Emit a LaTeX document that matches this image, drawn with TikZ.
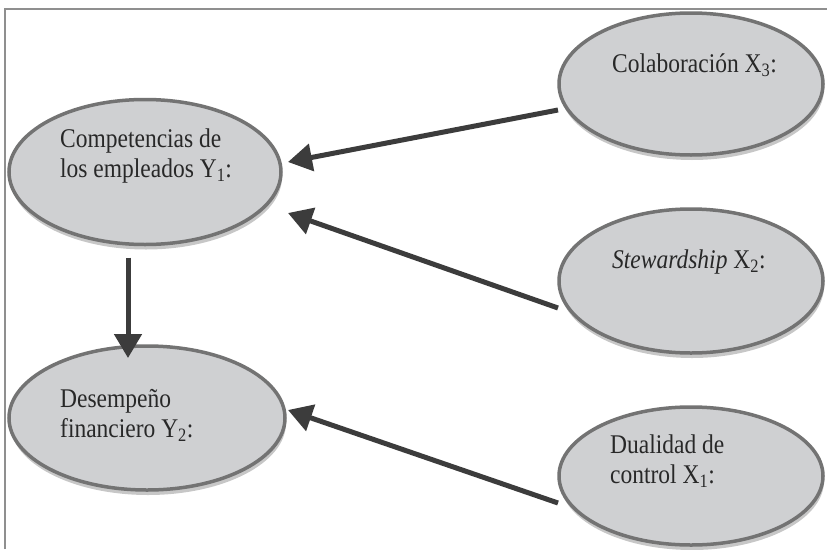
\documentclass[tikz,border=0pt]{standalone}
\usepackage{fontspec}
\setmainfont{Liberation Serif}[FakeStretch=0.87]
\usetikzlibrary{shapes.geometric,arrows.meta,shadows,calc}
\definecolor{bubblefill}{HTML}{CFD0D2}
\definecolor{bubbleline}{HTML}{737373}
\definecolor{framegray}{HTML}{8F8F8F}
\definecolor{arrowgray}{HTML}{3C3C3C}
\definecolor{textgray}{HTML}{282828}
\tikzset{
  bubble/.style={ellipse, draw=bubbleline, line width=3.5pt, fill=bubblefill,
    inner sep=0pt, outer sep=0pt,
    drop shadow={shadow xshift=1pt, shadow yshift=-5pt, opacity=0.22, fill=black}},
  txt/.style={anchor=north west, inner sep=0pt, align=left, text=textgray,
    font=\fontsize{27}{30}\selectfont},
  arr/.style={draw=arrowgray, line width=5pt,
    -{Triangle[length=24pt,width=27pt]}}
}
\begin{document}
\begin{tikzpicture}[x=1pt,y=-1pt]
\useasboundingbox (0,0) rectangle (827,549);
\fill[white] (0,0) rectangle (827,549);
% frame
\draw[framegray, line width=1.5pt] (5,549) -- (5,9) -- (827,9);
% ellipses
\node[bubble, minimum width=272pt, minimum height=145pt] (comp) at (145,172) {};
\node[bubble, minimum width=276pt, minimum height=144pt] (des) at (147,418) {};
\node[bubble, minimum width=264pt, minimum height=142pt] (col) at (691,84) {};
\node[bubble, minimum width=264pt, minimum height=144pt] (stew) at (691,281) {};
\node[bubble, minimum width=264pt, minimum height=138pt] (dual) at (691,476) {};
% texts
\node[txt] (tcomp) at (60,126) {\strut Competencias de\\los empleados Y\textsubscript{1}:};
\node[txt] (tdes) at (60,386) {\strut Desempeño\\financiero Y\textsubscript{2}:};
\node[txt] (tcol) at (612,51) {\strut Colaboración X\textsubscript{3}:};
\node[txt] (tstew) at (612,247) {\strut \textit{Stewardship} X\textsubscript{2}:};
\node[txt] (tdual) at (610,432) {\strut Dualidad de\\control X\textsubscript{1}:};
% arrows
\draw[arr] ($(col.west)+(-1,26)$) -- ($(comp.east)+(7,-10)$);
\draw[arr] ($(stew.west)+(-1,27)$) -- ($(comp.east)+(7,41)$);
\draw[arr] ($(dual.west)+(-1,27)$) -- ($(des.east)+(3,-8)$);
\draw[arr] ($(comp.south)+(-17,13)$) -- ($(des.north)+(-19,12)$);
\end{tikzpicture}
\end{document}
